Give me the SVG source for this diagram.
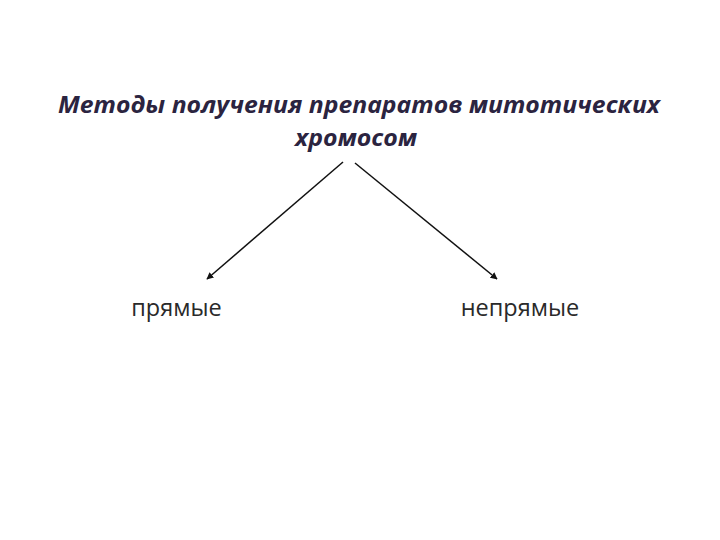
<svg xmlns="http://www.w3.org/2000/svg" width="720" height="540" viewBox="0 0 720 540">
<style>
.title{font-family:"Open Sans","Noto Sans",sans-serif;font-weight:bold;font-style:italic;font-size:23px;fill:#2b2440;text-anchor:middle}
.lbl{font-family:"Open Sans","Noto Sans",sans-serif;font-size:23.5px;fill:#2a2a2a;text-anchor:middle}
.conn{stroke:#111;stroke-width:1.5;fill:none;marker-end:url(#ah)}
</style>
<defs>
<marker id="ah" viewBox="0 0 10 10" refX="9" refY="5" markerWidth="7" markerHeight="7" orient="auto" markerUnits="userSpaceOnUse">
<path d="M0,0 L10,5 L0,10 z" fill="#111"/>
</marker>
</defs>
<rect width="720" height="540" fill="#fff"/>
<g id="title">
<text class="title" x="359" y="113" textLength="602" lengthAdjust="spacingAndGlyphs">Методы получения препаратов митотических</text>
<text class="title" x="356" y="146" textLength="122" lengthAdjust="spacingAndGlyphs">хромосом</text>
</g>
<g id="direct">
<text class="lbl" x="176.5" y="316">прямые</text>
</g>
<g id="indirect">
<text class="lbl" x="520" y="316">непрямые</text>
</g>
<g id="connectors">
<line class="conn" x1="343" y1="162" x2="207" y2="279"/>
<line class="conn" x1="355" y1="163" x2="497" y2="279"/>
</g>
</svg>
